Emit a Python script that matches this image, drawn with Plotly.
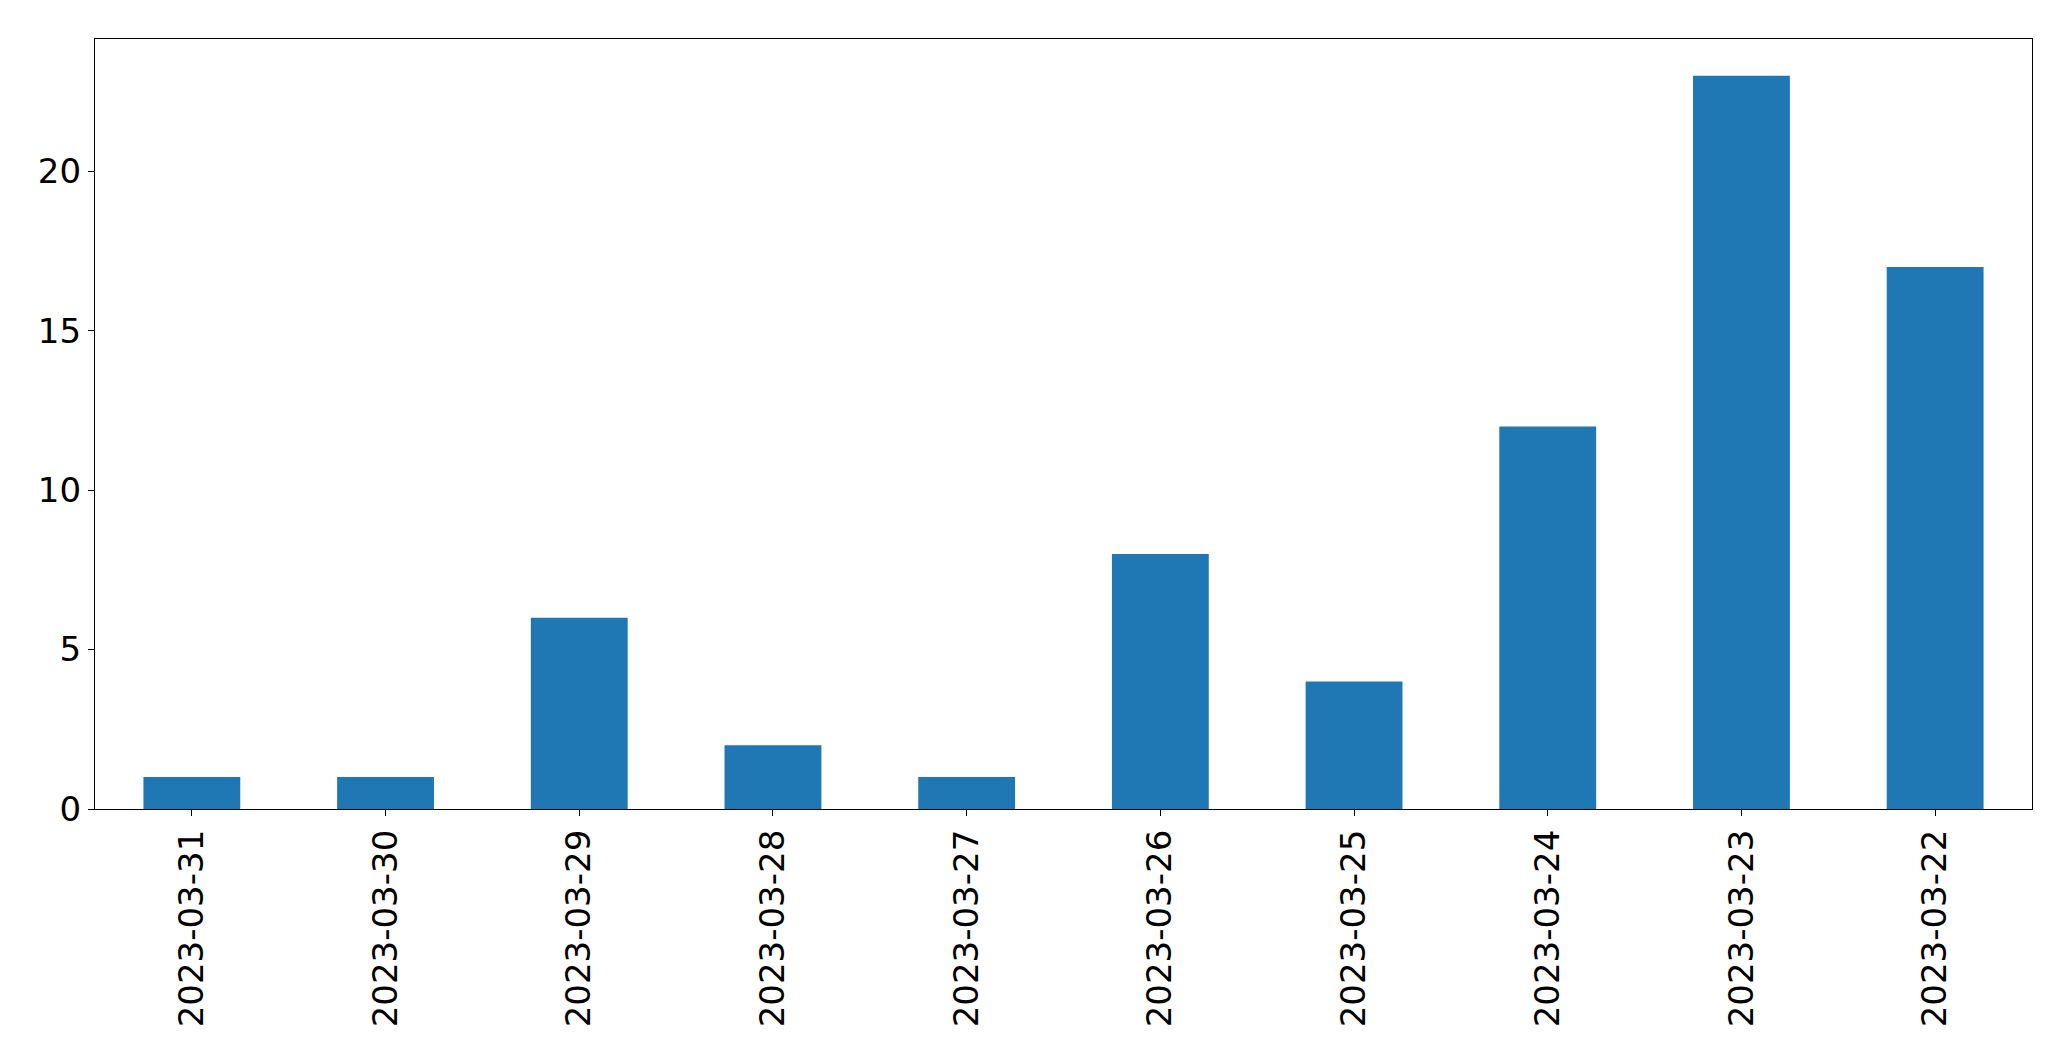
import plotly.graph_objects as go

dates = ["2023-03-31", "2023-03-30", "2023-03-29", "2023-03-28", "2023-03-27",
         "2023-03-26", "2023-03-25", "2023-03-24", "2023-03-23", "2023-03-22"]
counts = [1, 1, 6, 2, 1, 8, 4, 12, 23, 17]
y_ticks = [0, 5, 10, 15, 20]

fig = go.Figure(go.Bar(x=dates, y=counts, marker=dict(color="#1f77b4", line=dict(width=0)),
                       width=0.5))

axis_common = dict(showline=True, linecolor="black", linewidth=1.3, mirror=True,
                   ticks="outside", ticklen=6, tickwidth=1.3, tickcolor="black",
                   showgrid=False, zeroline=False,
                   tickfont=dict(family="DejaVu Sans", size=34, color="black"))

fig.update_layout(
    width=2071, height=1061,
    margin=dict(l=94.5, r=39.3, t=39.3, b=251.7),
    paper_bgcolor="white", plot_bgcolor="white",
    showlegend=False,
    bargap=0.5,
    xaxis=dict(type="category", range=[-0.5, 9.5], tickangle=-90, **axis_common),
    yaxis=dict(range=[0, 24.15], tickvals=y_ticks, **axis_common),
)

fig.write_html("out.html")
